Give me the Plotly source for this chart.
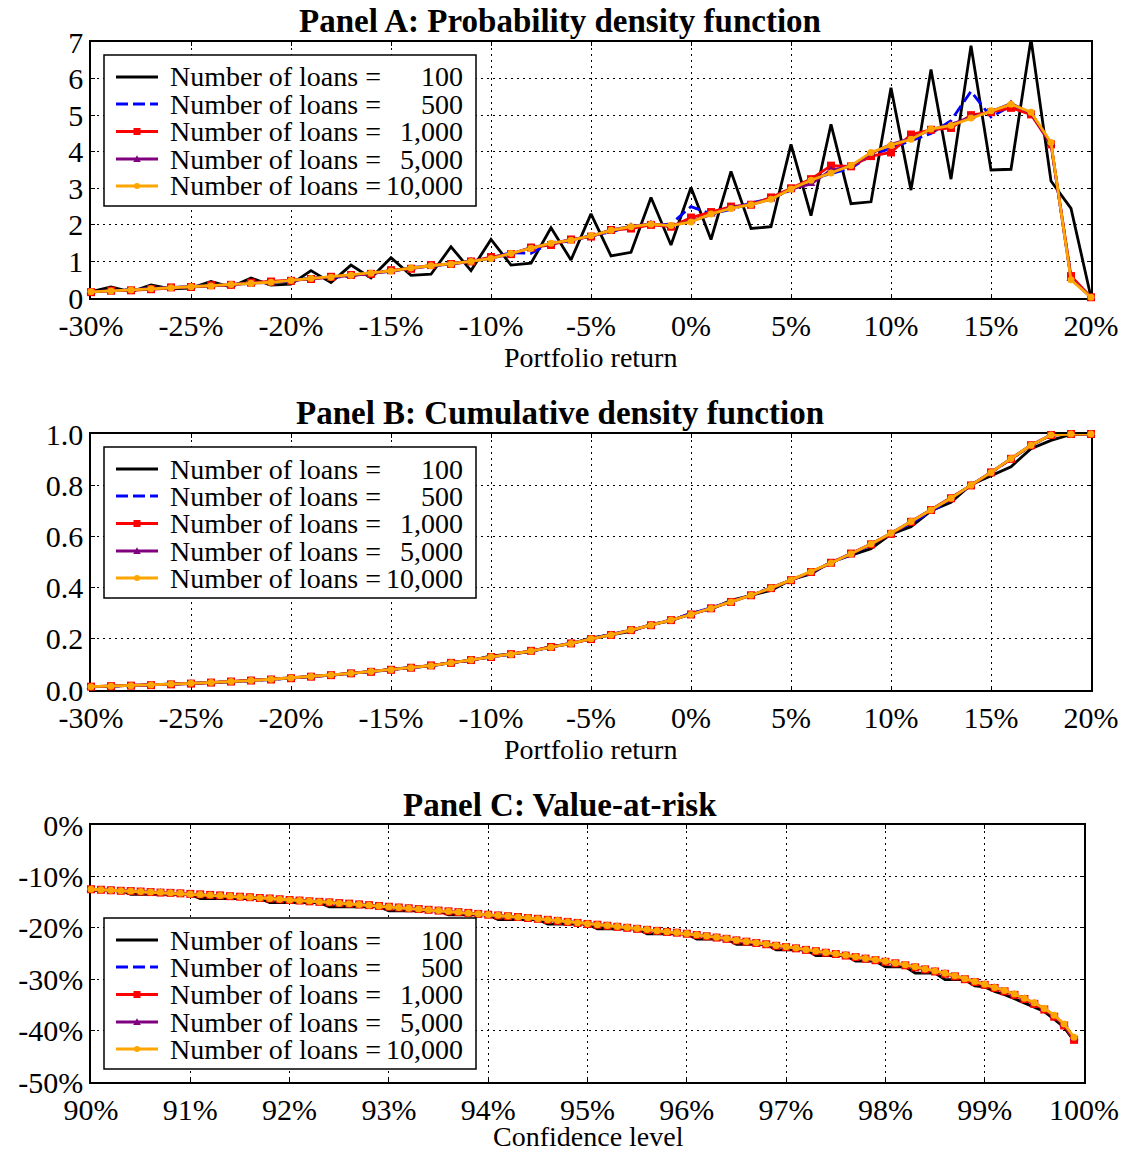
import plotly.graph_objects as go

W, H = 1126, 1153
FONT = "Liberation Serif"

# ---------------------------------------------------------------- data
loan_counts = ["100", "500", "1,000", "5,000", "10,000"]

# Portfolio return grid (percent) for the density panels
returns_pct = list(range(-30, 21))

# Panel A: probability density of the portfolio return
pdf_100 = [0.17, 0.30, 0.17, 0.36, 0.25, 0.27, 0.45, 0.30, 0.55, 0.35,
           0.38, 0.75, 0.42, 0.90, 0.55, 1.10, 0.62, 0.65, 1.40, 0.75,
           1.60, 0.90, 0.95, 1.92, 1.04, 2.30, 1.15, 1.25, 2.75, 1.45,
           3.02, 1.60, 3.46, 1.90, 1.95, 4.20, 2.25, 4.75, 2.58, 2.63,
           5.75, 2.95, 6.25, 3.25, 6.90, 3.50, 3.52, 7.08, 3.20, 2.45, 0.02]
pdf_500 = [0.17, 0.20, 0.23, 0.25, 0.27, 0.32, 0.34, 0.36, 0.40, 0.44,
           0.46, 0.55, 0.56, 0.60, 0.70, 0.72, 0.84, 0.86, 0.95, 1.00,
           1.10, 1.24, 1.22, 1.52, 1.55, 1.72, 1.80, 1.98, 2.00, 2.02,
           2.50, 2.30, 2.42, 2.60, 2.72, 2.95, 3.25, 3.40, 3.55, 3.90,
           4.10, 4.30, 4.50, 4.85, 5.65, 4.95, 5.25, 5.05, 4.20, 0.55, 0.02]
pdf_1000 = [0.16, 0.20, 0.21, 0.24, 0.29, 0.30, 0.35, 0.36, 0.42, 0.45,
            0.47, 0.52, 0.58, 0.63, 0.66, 0.76, 0.80, 0.90, 0.93, 1.00,
            1.12, 1.20, 1.38, 1.45, 1.60, 1.68, 1.86, 1.90, 2.00, 1.95,
            2.20, 2.35, 2.50, 2.55, 2.75, 3.00, 3.25, 3.62, 3.60, 3.88,
            3.98, 4.47, 4.60, 4.65, 5.00, 5.08, 5.20, 5.02, 4.20, 0.60, 0.02]
pdf_5000 = [0.17, 0.19, 0.22, 0.26, 0.28, 0.31, 0.34, 0.36, 0.41, 0.42,
            0.48, 0.52, 0.58, 0.62, 0.67, 0.75, 0.81, 0.88, 0.93, 1.01,
            1.09, 1.20, 1.38, 1.48, 1.60, 1.68, 1.86, 1.96, 2.03, 1.97,
            2.10, 2.28, 2.48, 2.56, 2.70, 2.98, 3.12, 3.50, 3.60, 3.95,
            4.20, 4.36, 4.60, 4.75, 4.95, 5.10, 5.32, 5.05, 4.22, 0.52, 0.02]
pdf_10000 = [0.17, 0.19, 0.22, 0.25, 0.28, 0.31, 0.33, 0.37, 0.40, 0.43,
             0.48, 0.53, 0.57, 0.62, 0.68, 0.74, 0.82, 0.88, 0.92, 1.00,
             1.08, 1.22, 1.36, 1.50, 1.58, 1.70, 1.85, 1.95, 2.02, 1.98,
             2.08, 2.30, 2.45, 2.55, 2.70, 2.98, 3.22, 3.42, 3.62, 3.98,
             4.18, 4.34, 4.62, 4.72, 4.92, 5.12, 5.30, 5.08, 4.25, 0.50, 0.02]

# Panel B: cumulative distribution of the portfolio return
cdf_100 = [0.012, 0.015, 0.016, 0.020, 0.022, 0.025, 0.030, 0.032, 0.038, 0.041,
           0.046, 0.053, 0.057, 0.066, 0.071, 0.081, 0.087, 0.094, 0.108, 0.115,
           0.133, 0.140, 0.150, 0.170, 0.180, 0.204, 0.215, 0.229, 0.256, 0.270,
           0.300, 0.316, 0.350, 0.369, 0.389, 0.431, 0.453, 0.500, 0.526, 0.552,
           0.609, 0.638, 0.700, 0.733, 0.802, 0.837, 0.872, 0.943, 0.975, 0.998, 1.000]
cdf_500 = [0.013, 0.015, 0.017, 0.020, 0.022, 0.025, 0.029, 0.032, 0.036, 0.041,
           0.046, 0.052, 0.058, 0.064, 0.071, 0.078, 0.087, 0.095, 0.105, 0.116,
           0.129, 0.140, 0.152, 0.167, 0.183, 0.200, 0.216, 0.234, 0.254, 0.274,
           0.298, 0.320, 0.345, 0.371, 0.398, 0.428, 0.460, 0.494, 0.530, 0.568,
           0.609, 0.652, 0.697, 0.745, 0.800, 0.849, 0.902, 0.955, 0.996, 1.000, 1.000]
cdf_1000 = [0.013, 0.015, 0.017, 0.019, 0.022, 0.025, 0.029, 0.033, 0.037, 0.041,
            0.046, 0.052, 0.058, 0.065, 0.071, 0.079, 0.087, 0.096, 0.106, 0.117,
            0.129, 0.140, 0.153, 0.168, 0.182, 0.199, 0.215, 0.234, 0.253, 0.273,
            0.295, 0.319, 0.344, 0.370, 0.398, 0.429, 0.461, 0.497, 0.533, 0.569,
            0.610, 0.657, 0.703, 0.749, 0.799, 0.850, 0.903, 0.956, 0.996, 1.000, 1.000]
cdf_5000 = [0.013, 0.015, 0.017, 0.020, 0.023, 0.026, 0.029, 0.033, 0.037, 0.042,
            0.047, 0.053, 0.059, 0.065, 0.072, 0.079, 0.087, 0.095, 0.106, 0.117,
            0.130, 0.139, 0.152, 0.167, 0.182, 0.200, 0.215, 0.234, 0.253, 0.273,
            0.295, 0.318, 0.344, 0.370, 0.398, 0.430, 0.461, 0.496, 0.532, 0.570,
            0.612, 0.658, 0.703, 0.749, 0.800, 0.850, 0.904, 0.956, 0.996, 1.000, 1.000]
cdf_10000 = [0.013, 0.015, 0.017, 0.020, 0.023, 0.026, 0.029, 0.033, 0.037, 0.042,
             0.047, 0.053, 0.059, 0.065, 0.072, 0.079, 0.087, 0.095, 0.106, 0.117,
             0.130, 0.139, 0.152, 0.167, 0.182, 0.200, 0.215, 0.234, 0.253, 0.273,
             0.295, 0.318, 0.344, 0.370, 0.398, 0.430, 0.462, 0.496, 0.532, 0.570,
             0.612, 0.658, 0.703, 0.749, 0.800, 0.850, 0.904, 0.956, 0.996, 1.000, 1.000]

# Panel C: value-at-risk (percent) by confidence level, 90.0% .. 99.9%
conf_levels = [round(90 + 0.1 * i, 1) for i in range(100)]

var_100 = [-12.7, -12.7, -12.7, -12.7, -13.5, -13.5, -13.5, -13.5, -13.5, -13.5,
           -13.5, -14.3, -14.3, -14.3, -14.3, -14.3, -14.3, -14.3, -15.1, -15.1,
           -15.1, -15.1, -15.1, -15.1, -15.9, -15.9, -15.9, -15.9, -15.9, -15.9,
           -16.7, -16.7, -16.7, -16.7, -16.7, -16.7, -17.5, -17.5, -17.5, -17.5,
           -17.5, -18.4, -18.4, -18.4, -18.4, -18.4, -19.3, -19.3, -19.3, -19.3,
           -19.3, -20.2, -20.2, -20.2, -20.2, -20.2, -21.2, -21.2, -21.2, -21.2,
           -21.2, -22.2, -22.2, -22.2, -22.2, -23.2, -23.2, -23.2, -23.2, -24.3,
           -24.3, -24.3, -24.3, -25.4, -25.4, -25.4, -25.4, -26.5, -26.5, -26.5,
           -27.6, -27.6, -27.6, -28.8, -28.8, -28.8, -30.1, -30.1, -30.1, -31.3,
           -31.5, -32.4, -33.0, -33.8, -34.6, -35.4, -36.3, -37.8, -39.4, -42.0]
var_500 = [-12.5, -12.6, -12.7, -12.8, -12.85, -12.95, -13.05, -13.1, -13.2, -13.3,
           -13.4, -13.5, -13.6, -13.7, -13.8, -13.95, -14.05, -14.2, -14.3, -14.45,
           -14.6, -14.7, -14.8, -14.95, -15.05, -15.2, -15.3, -15.45, -15.6, -15.75,
           -15.9, -16.05, -16.2, -16.35, -16.5, -16.65, -16.8, -16.95, -17.1, -17.25,
           -17.4, -17.55, -17.7, -17.9, -18.05, -18.25, -18.45, -18.6, -18.8, -19.0,
           -19.2, -19.4, -19.55, -19.75, -19.95, -20.15, -20.35, -20.55, -20.75, -20.95,
           -21.15, -21.4, -21.65, -21.9, -22.15, -22.4, -22.65, -22.9, -23.2, -23.5,
           -23.75, -24.0, -24.3, -24.55, -24.85, -25.1, -25.4, -25.7, -26.0, -26.3,
           -26.6, -26.9, -27.25, -27.65, -28.05, -28.45, -28.9, -29.4, -29.95, -30.5,
           -31.05, -31.65, -32.25, -32.95, -33.75, -34.6, -35.8, -37.2, -38.8, -41.6]
var_1000 = [-12.5, -12.6, -12.7, -12.8, -12.85, -12.95, -13.05, -13.15, -13.2, -13.3,
            -13.4, -13.5, -13.6, -13.7, -13.85, -13.95, -14.05, -14.2, -14.3, -14.45,
            -14.6, -14.7, -14.85, -14.95, -15.05, -15.2, -15.3, -15.45, -15.6, -15.75,
            -15.9, -16.05, -16.2, -16.35, -16.5, -16.65, -16.8, -16.95, -17.1, -17.3,
            -17.45, -17.6, -17.75, -17.9, -18.1, -18.25, -18.45, -18.65, -18.85, -19.05,
            -19.25, -19.4, -19.6, -19.8, -20.0, -20.2, -20.4, -20.6, -20.8, -20.95,
            -21.15, -21.4, -21.65, -21.9, -22.15, -22.45, -22.7, -22.95, -23.2, -23.5,
            -23.75, -24.0, -24.3, -24.55, -24.85, -25.1, -25.4, -25.7, -26.0, -26.3,
            -26.6, -26.9, -27.3, -27.7, -28.1, -28.5, -28.95, -29.45, -30.0, -30.55,
            -31.1, -31.7, -32.35, -33.05, -33.85, -34.8, -35.9, -37.3, -39.0, -41.8]
var_5000 = [-12.5, -12.6, -12.7, -12.8, -12.85, -12.95, -13.05, -13.1, -13.2, -13.3,
            -13.4, -13.5, -13.6, -13.7, -13.8, -13.95, -14.05, -14.2, -14.3, -14.45,
            -14.6, -14.7, -14.8, -14.95, -15.05, -15.2, -15.3, -15.45, -15.6, -15.75,
            -15.9, -16.05, -16.2, -16.35, -16.5, -16.65, -16.8, -16.95, -17.1, -17.25,
            -17.4, -17.55, -17.7, -17.9, -18.05, -18.25, -18.45, -18.6, -18.8, -19.0,
            -19.2, -19.4, -19.55, -19.75, -19.95, -20.15, -20.35, -20.55, -20.75, -20.9,
            -21.1, -21.35, -21.6, -21.85, -22.1, -22.4, -22.65, -22.9, -23.15, -23.45,
            -23.7, -23.95, -24.25, -24.5, -24.8, -25.05, -25.35, -25.65, -25.95, -26.25,
            -26.55, -26.9, -27.25, -27.6, -28.0, -28.4, -28.85, -29.35, -29.9, -30.45,
            -31.0, -31.6, -32.25, -32.95, -33.75, -34.7, -35.8, -37.1, -38.9, -41.5]
var_10000 = [-12.5, -12.6, -12.7, -12.8, -12.85, -12.95, -13.05, -13.1, -13.2, -13.3,
             -13.4, -13.5, -13.6, -13.7, -13.8, -13.95, -14.05, -14.2, -14.3, -14.45,
             -14.6, -14.7, -14.8, -14.95, -15.05, -15.2, -15.3, -15.45, -15.6, -15.75,
             -15.9, -16.05, -16.2, -16.35, -16.5, -16.65, -16.8, -16.95, -17.1, -17.25,
             -17.4, -17.55, -17.7, -17.9, -18.05, -18.25, -18.45, -18.6, -18.8, -19.0,
             -19.2, -19.4, -19.55, -19.75, -19.95, -20.15, -20.35, -20.55, -20.75, -20.9,
             -21.1, -21.35, -21.6, -21.85, -22.1, -22.4, -22.65, -22.9, -23.15, -23.45,
             -23.7, -23.95, -24.25, -24.5, -24.8, -25.05, -25.35, -25.65, -25.95, -26.2,
             -26.5, -26.85, -27.2, -27.6, -28.0, -28.4, -28.85, -29.35, -29.9, -30.45,
             -31.0, -31.6, -32.2, -32.9, -33.7, -34.6, -35.7, -37.0, -38.7, -41.3]

# Tick labels
ret_ticks = [-30, -25, -20, -15, -10, -5, 0, 5, 10, 15, 20]
ret_ticktext = ["-30%", "-25%", "-20%", "-15%", "-10%", "-5%", "0%", "5%", "10%", "15%", "20%"]
pdf_ticks = [0, 1, 2, 3, 4, 5, 6, 7]
cdf_ticks = [0.0, 0.2, 0.4, 0.6, 0.8, 1.0]
cdf_ticktext = ["0.0", "0.2", "0.4", "0.6", "0.8", "1.0"]
conf_ticks = [90, 91, 92, 93, 94, 95, 96, 97, 98, 99, 100]
conf_ticktext = ["90%", "91%", "92%", "93%", "94%", "95%", "96%", "97%", "98%", "99%", "100%"]
var_ticks = [0, -10, -20, -30, -40, -50]
var_ticktext = ["0%", "-10%", "-20%", "-30%", "-40%", "-50%"]

# ---------------------------------------------------------------- styling
STYLES = [
    dict(color="#000000", dash="solid", symbol=None, size=0),
    dict(color="#0000ff", dash="12px,5px", symbol=None, size=0),
    dict(color="#ff0000", dash="solid", symbol="square", size=8),
    dict(color="#800080", dash="solid", symbol="triangle-up", size=8),
    dict(color="#ffa500", dash="solid", symbol="circle", size=7),
]
LINE_W = 2.8

# plot rectangles in pixels: left, right, top, bottom
PANELS = [(91, 1091, 42, 298), (91, 1091, 434, 690), (91, 1084, 825, 1082)]


def px(x):
    return x / W


def py(y):
    return 1 - y / H


fig = go.Figure()

panel_data = [
    (returns_pct, [pdf_100, pdf_500, pdf_1000, pdf_5000, pdf_10000], ""),
    (returns_pct, [cdf_100, cdf_500, cdf_1000, cdf_5000, cdf_10000], "2"),
    (conf_levels, [var_100, var_500, var_1000, var_5000, var_10000], "3"),
]

for xs, series, sfx in panel_data:
    for st, ys in zip(STYLES, series):
        kw = dict(
            x=xs, y=ys,
            line=dict(color=st["color"], width=LINE_W, dash=st["dash"]),
            xaxis="x" + sfx, yaxis="y" + sfx,
            showlegend=False, cliponaxis=False, hoverinfo="skip",
        )
        if st["symbol"]:
            kw["mode"] = "lines+markers"
            kw["marker"] = dict(symbol=st["symbol"], size=st["size"], color=st["color"],
                                line=dict(width=0))
        else:
            kw["mode"] = "lines"
        fig.add_trace(go.Scatter(**kw))


def axis_style(**extra):
    base = dict(
        showline=True, linecolor="black", linewidth=1.5, mirror="ticks",
        ticks="inside", ticklen=4, tickwidth=1, tickcolor="black",
        showgrid=True, gridcolor="black", gridwidth=1, griddash="2px,4px",
        zeroline=False, layer="below traces", fixedrange=True, automargin=False,
        tickfont=dict(family=FONT, size=30, color="black"),
        tickmode="array",
    )
    base.update(extra)
    return base


(l1, r1, t1, b1), (l2, r2, t2, b2), (l3, r3, t3, b3) = PANELS

fig.update_layout(
    width=W, height=H, autosize=False,
    margin=dict(l=0, r=0, t=0, b=0, pad=0, autoexpand=False),
    paper_bgcolor="white", plot_bgcolor="white",
    showlegend=False,
    xaxis=axis_style(domain=[px(l1), px(r1)], range=[-30, 20], anchor="y",
                     tickvals=ret_ticks, ticktext=ret_ticktext),
    yaxis=axis_style(domain=[py(b1), py(t1)], range=[0, 7], anchor="x",
                     tickvals=pdf_ticks, ticktext=[str(v) for v in pdf_ticks]),
    xaxis2=axis_style(domain=[px(l2), px(r2)], range=[-30, 20], anchor="y2",
                      tickvals=ret_ticks, ticktext=ret_ticktext),
    yaxis2=axis_style(domain=[py(b2), py(t2)], range=[0, 1], anchor="x2",
                      tickvals=cdf_ticks, ticktext=cdf_ticktext),
    xaxis3=axis_style(domain=[px(l3), px(r3)], range=[90, 100], anchor="y3",
                      tickvals=conf_ticks, ticktext=conf_ticktext),
    yaxis3=axis_style(domain=[py(b3), py(t3)], range=[-50, 0], anchor="x3",
                      tickvals=var_ticks, ticktext=var_ticktext),
)

# ---------------------------------------------------------------- titles
titles = [
    ("Panel A: Probability density function", 21),
    ("Panel B: Cumulative density function", 413),
    ("Panel C: Value-at-risk", 805),
]
for text, y in titles:
    fig.add_annotation(
        text="<b>%s</b>" % text, x=px(560), y=py(y), xref="paper", yref="paper",
        xanchor="center", yanchor="middle", showarrow=False,
        font=dict(family=FONT, size=33, color="black"),
    )

axis_titles = [("Portfolio return", 591, 357), ("Portfolio return", 591, 749),
               ("Confidence level", 588, 1136)]
for text, x, y in axis_titles:
    fig.add_annotation(
        text=text, x=px(x), y=py(y), xref="paper", yref="paper",
        xanchor="center", yanchor="middle", showarrow=False,
        font=dict(family=FONT, size=28, color="black"),
    )


# ---------------------------------------------------------------- legends
def add_legend(top):
    left, right, height = 104, 476, 151
    fig.add_shape(type="rect", xref="paper", yref="paper",
                  x0=px(left), x1=px(right), y0=py(top + height), y1=py(top),
                  line=dict(color="black", width=1.5), fillcolor="white", layer="above")
    rows = [22, 49, 76.5, 104, 131]
    for st, label, dy in zip(STYLES, loan_counts, rows):
        yc = top + dy
        fig.add_shape(type="line", xref="paper", yref="paper",
                      x0=px(116), x1=px(158), y0=py(yc), y1=py(yc),
                      line=dict(color=st["color"], width=LINE_W, dash=st["dash"]),
                      layer="above")
        cx = 137
        if st["symbol"] == "square":
            s = 3.5
            fig.add_shape(type="rect", xref="paper", yref="paper",
                          x0=px(cx - s), x1=px(cx + s), y0=py(yc + s), y1=py(yc - s),
                          line=dict(width=0), fillcolor=st["color"], layer="above")
        elif st["symbol"] == "circle":
            s = 3
            fig.add_shape(type="circle", xref="paper", yref="paper",
                          x0=px(cx - s), x1=px(cx + s), y0=py(yc + s), y1=py(yc - s),
                          line=dict(width=0), fillcolor=st["color"], layer="above")
        elif st["symbol"] == "triangle-up":
            s = 3.8
            path = "M %f,%f L %f,%f L %f,%f Z" % (
                px(cx), py(yc - s), px(cx - s), py(yc + s * 0.8), px(cx + s), py(yc + s * 0.8))
            fig.add_shape(type="path", xref="paper", yref="paper", path=path,
                          line=dict(width=0), fillcolor=st["color"], layer="above")
        fig.add_annotation(text="Number of loans =", x=px(168), y=py(yc),
                           xref="paper", yref="paper", xanchor="left", yanchor="middle",
                           showarrow=False, font=dict(family=FONT, size=28, color="black"))
        fig.add_annotation(text=label, x=px(465), y=py(yc),
                           xref="paper", yref="paper", xanchor="right", yanchor="middle",
                           showarrow=False, font=dict(family=FONT, size=28, color="black"))


add_legend(55)
add_legend(447)
add_legend(918)

fig.write_html("out.html")
